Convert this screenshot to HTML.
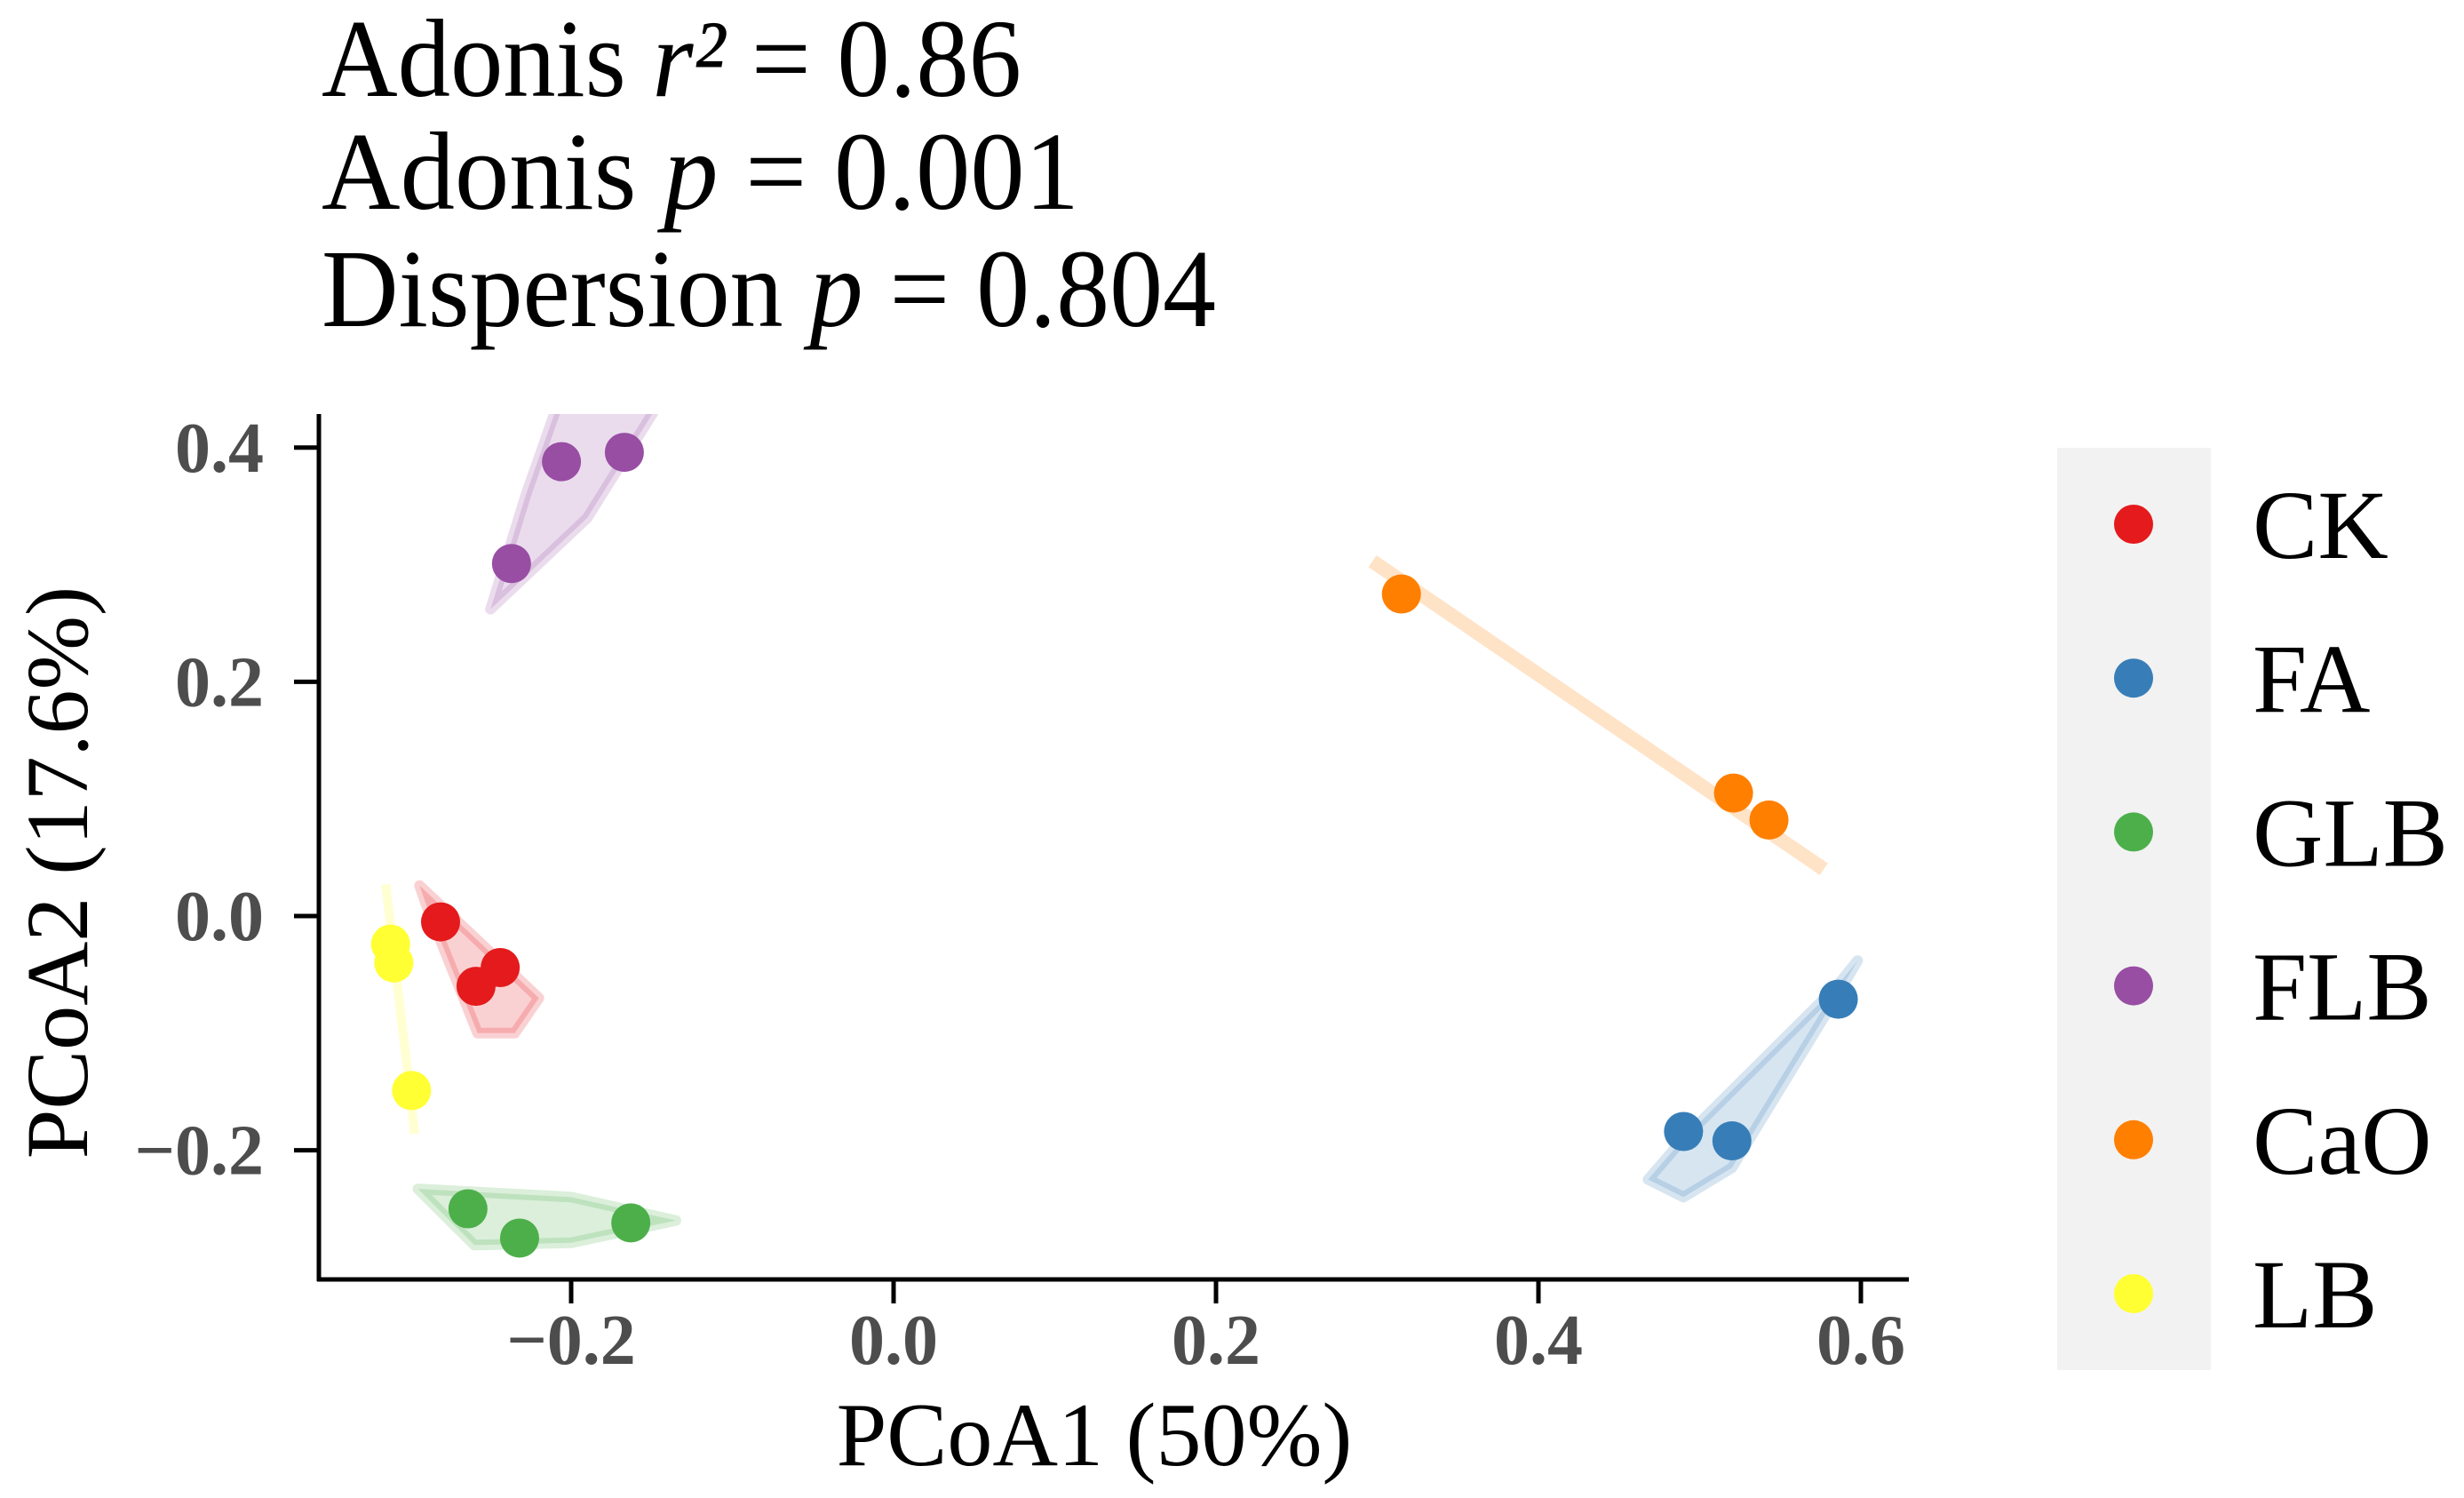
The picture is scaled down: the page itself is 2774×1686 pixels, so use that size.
<!DOCTYPE html>
<html><head><meta charset="utf-8"><style>
html,body{margin:0;padding:0;background:#fff;}
svg{display:block;font-family:"Liberation Serif",serif;}
</style></head><body>
<svg id="chart" width="2774" height="1686" viewBox="0 0 2774 1686" xmlns="http://www.w3.org/2000/svg">
<defs><clipPath id="plotclip"><rect x="359" y="466" width="1790" height="974"/></clipPath></defs>
<g font-size="125" fill="#000">
<text x="362" y="108" textLength="788" lengthAdjust="spacingAndGlyphs">Adonis <tspan font-style="italic">r²</tspan> = 0.86</text>
<text x="362" y="235" textLength="853" lengthAdjust="spacingAndGlyphs">Adonis <tspan font-style="italic">p</tspan>  = 0.001</text>
<text x="362" y="367" textLength="1007" lengthAdjust="spacingAndGlyphs">Dispersion <tspan font-style="italic">p</tspan> = 0.804</text>
</g>
<g id="hulls" clip-path="url(#plotclip)"></g>
<g id="pts"></g>
<g id="axes"></g>
<g id="legend"></g>
</svg>
<script>
const groups = ["CK","FA","GLB","FLB","CaO","LB"];
const colors = ["#e41a1c","#377eb8","#4daf4a","#984ea3","#ff7f00","#ffff33"];
const xTicks = [-0.2,0.0,0.2,0.4,0.6];
const yTicks = [-0.2,0.0,0.2,0.4];
const xTickLabels = ["\u22120.2","0.0","0.2","0.4","0.6"];
const yTickLabels = ["\u22120.2","0.0","0.2","0.4"];
const ptsCK = [[-0.281,-0.005],[-0.244,-0.044],[-0.259,-0.060]];
const ptsFA = [[0.490,-0.184],[0.520,-0.192],[0.586,-0.071]];
const ptsGLB = [[-0.264,-0.250],[-0.232,-0.275],[-0.163,-0.262]];
const ptsFLB = [[-0.206,0.388],[-0.167,0.396],[-0.237,0.301]];
const ptsCaO = [[0.315,0.275],[0.521,0.105],[0.543,0.082]];
const ptsLB = [[-0.312,-0.024],[-0.310,-0.040],[-0.299,-0.149]];
const hullCK = [[-0.294,0.026],[-0.22,-0.07],[-0.235,-0.10],[-0.258,-0.10],[-0.29,0.01]];
const hullFA = [[0.598,-0.038],[0.58,-0.08],[0.52,-0.215],[0.49,-0.24],[0.468,-0.225],[0.49,-0.19],[0.585,-0.06]];
const hullGLB = [[-0.295,-0.233],[-0.2,-0.24],[-0.135,-0.26],[-0.2,-0.279],[-0.26,-0.281]];
const hullFLB = [[-0.250,0.262],[-0.228,0.36],[-0.205,0.45],[-0.14,0.45],[-0.19,0.34]];
const lineCaO = [[0.297,0.303],[0.577,0.040]];
const lineLB = [[-0.315,0.027],[-0.297,-0.186]];

const NS="http://www.w3.org/2000/svg";
const X0=1006, XS=1815, Y0=1031, YS=1318;
function sx(v){return X0+v*XS;}
function sy(v){return Y0-v*YS;}
function mk(tag,attrs,parent){const e=document.createElementNS(NS,tag);for(const k in attrs)e.setAttribute(k,attrs[k]);parent.appendChild(e);return e;}
const hulls=document.getElementById('hulls'), pts=document.getElementById('pts'), axes=document.getElementById('axes'), legend=document.getElementById('legend');
const allPts=[ptsCK,ptsFA,ptsGLB,ptsFLB,ptsCaO,ptsLB];
const hullList=[[hullCK,0],[hullFA,1],[hullGLB,2],[hullFLB,3]];
hullList.forEach(([h,i])=>{
  const d=h.map((p,j)=>(j?'L':'M')+sx(p[0])+','+sy(p[1])).join(' ')+'Z';
  const p=mk('path',{d:d,fill:colors[i],'fill-opacity':0.2,stroke:colors[i],'stroke-opacity':0.2,'stroke-width':12,'stroke-linejoin':'round'},hulls);
  
  
});
[[lineCaO,4,16],[lineLB,5,10]].forEach(([l,i,w])=>{
  const p=mk('line',{x1:sx(l[0][0]),y1:sy(l[0][1]),x2:sx(l[1][0]),y2:sy(l[1][1]),stroke:colors[i],'stroke-opacity':0.22,'stroke-width':w},hulls);
  
  
});
allPts.forEach((arr,i)=>{arr.forEach(p=>{
  const c=mk('circle',{cx:sx(p[0]),cy:sy(p[1]),r:22,fill:colors[i]},pts);
  
  
});});
let a=mk('line',{x1:359,y1:466,x2:359,y2:1442,stroke:'#000','stroke-width':5},axes);


a=mk('line',{x1:357,y1:1440,x2:2149,y2:1440,stroke:'#000','stroke-width':5},axes);


xTicks.forEach((v,i)=>{
  const t=mk('line',{x1:sx(v),y1:1440,x2:sx(v),y2:1467,stroke:'#000','stroke-width':5},axes);
  
  
  const tx=mk('text',{x:sx(v),y:1535,'text-anchor':'middle','font-size':80,'font-weight':'bold',fill:'#4d4d4d'},axes);
  tx.textContent=xTickLabels[i];
  
  
});
yTicks.forEach((v,i)=>{
  const t=mk('line',{x1:331,y1:sy(v),x2:359,y2:sy(v),stroke:'#000','stroke-width':5},axes);
  
  
  const tx=mk('text',{x:297,y:sy(v)+27,'text-anchor':'end','font-size':80,'font-weight':'bold',fill:'#4d4d4d'},axes);
  tx.textContent=yTickLabels[i];
  
  
});
let tt=mk('text',{x:1232,y:1649,'text-anchor':'middle','font-size':102,fill:'#000'},axes);
tt.textContent='PCoA1 (50%)';


tt=mk('text',{x:0,y:0,'text-anchor':'middle','font-size':100,fill:'#000',transform:'translate(98,982) rotate(-90)'},axes);
tt.textContent='PCoA2 (17.6%)';


let bg=mk('rect',{x:2316,y:504,width:173,height:1038,fill:'#f2f2f2'},legend);


const rowY0=590, rowStep=173.2;
groups.forEach((g,i)=>{
  const y=rowY0+i*rowStep;
  const c=mk('circle',{cx:2402,cy:y,r:22,fill:colors[i]},legend);
  
  
  const t=mk('text',{x:2536,y:y+38,'font-size':110,fill:'#000'},legend);
  t.textContent=g;
  
  
});
</script>
</body></html>
